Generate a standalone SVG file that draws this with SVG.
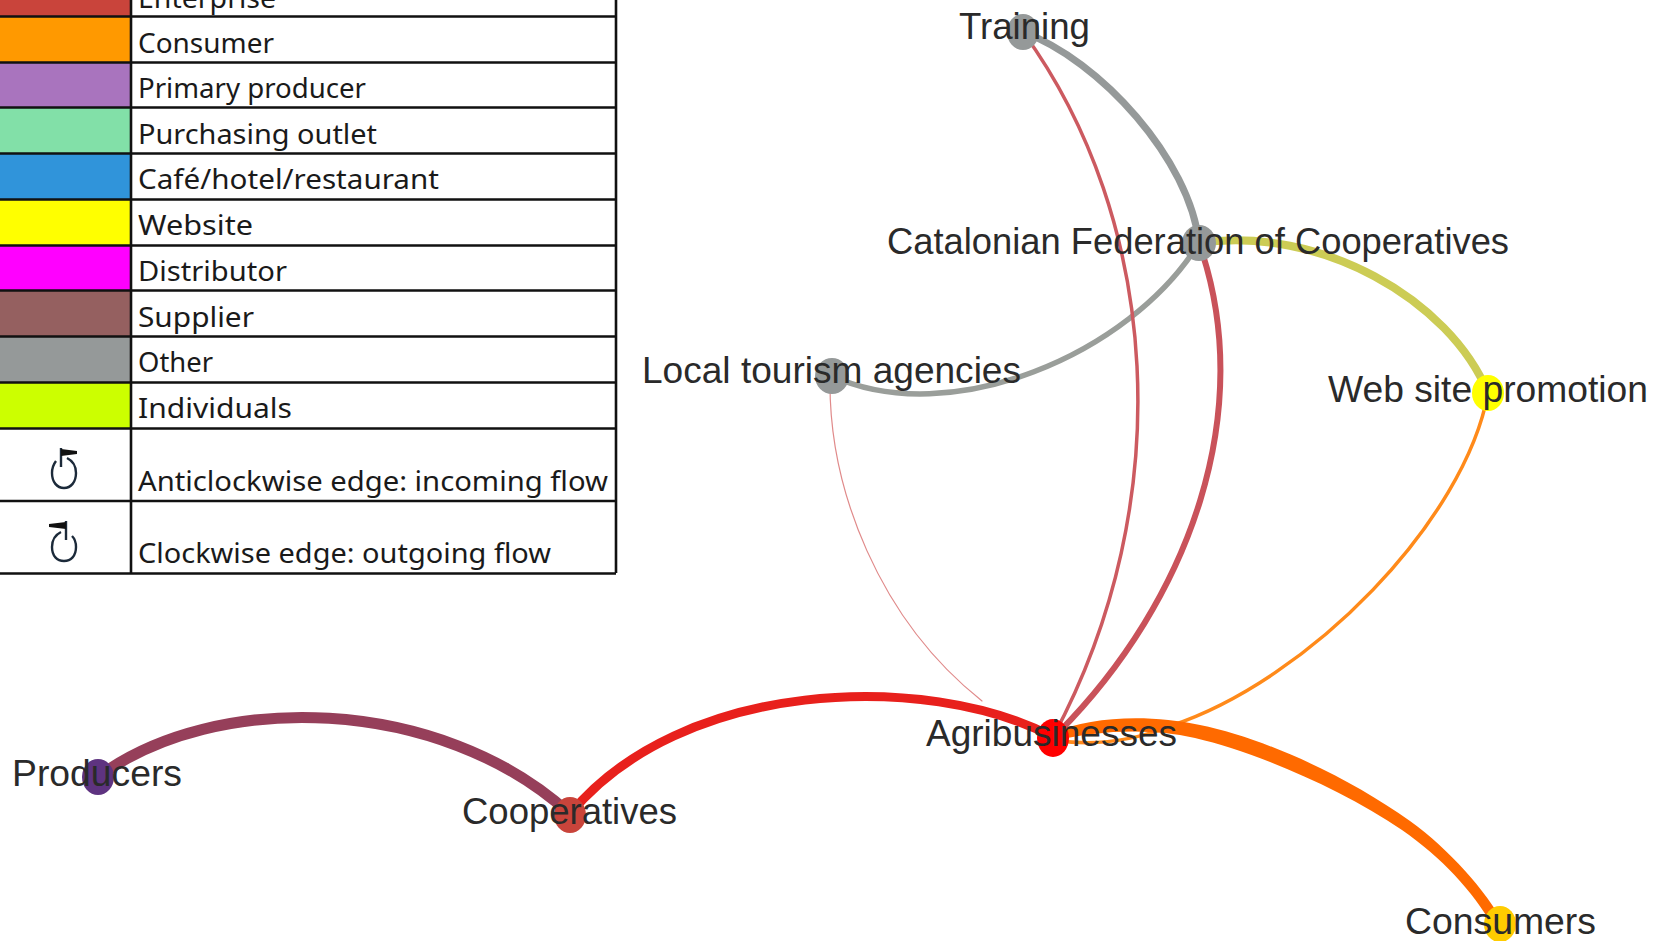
<svg xmlns="http://www.w3.org/2000/svg" width="1665" height="941" viewBox="0 0 1665 941">
<style>
.lg{font-family:"Noto Sans","DejaVu Sans",sans-serif;font-size:28px;fill:#1a1a1a}
.nl{font-family:"Liberation Sans",Arial,sans-serif;font-size:37px;fill:#2a2a2a}
.gl{stroke:#111;stroke-width:2.6;fill:none}
.e{fill:none;stroke-linecap:round}
.sym{fill:none;stroke:#1c2a3a;stroke-width:2.4}
.tip{fill:#111}
</style>
<rect width="1665" height="941" fill="#fff"/>
<g id="legend">
<rect x="0" y="-10" width="131" height="26" fill="#C9443B"/>
<rect x="0" y="16" width="131" height="46" fill="#FF9900"/>
<rect x="0" y="62" width="131" height="45" fill="#A974BE"/>
<rect x="0" y="107" width="131" height="46" fill="#82E0A8"/>
<rect x="0" y="153" width="131" height="46" fill="#3094DA"/>
<rect x="0" y="199" width="131" height="46" fill="#FFFF00"/>
<rect x="0" y="245" width="131" height="46" fill="#FF00FF"/>
<rect x="0" y="291" width="131" height="45" fill="#956060"/>
<rect x="0" y="336" width="131" height="46" fill="#959999"/>
<rect x="0" y="382" width="131" height="46" fill="#CCFF00"/>
<path class="gl" d="M0,16.5H616M0,62.5H616M0,107.5H616M0,153.5H616M0,199.5H616M0,245.5H616M0,290.5H616M0,336.5H616M0,382.5H616M0,428.5H616M0,501H616M0,573.5H616M131,0V573M616,0V573"/>
<text class="lg" x="138" y="8" textLength="138" lengthAdjust="spacingAndGlyphs">Enterprise</text>
<text class="lg" x="138" y="53" textLength="136" lengthAdjust="spacingAndGlyphs">Consumer</text>
<text class="lg" x="138" y="98" textLength="228" lengthAdjust="spacingAndGlyphs">Primary producer</text>
<text class="lg" x="138" y="144" textLength="239" lengthAdjust="spacingAndGlyphs">Purchasing outlet</text>
<text class="lg" x="138" y="189" textLength="301" lengthAdjust="spacingAndGlyphs">Café/hotel/restaurant</text>
<text class="lg" x="138" y="235" textLength="115" lengthAdjust="spacingAndGlyphs">Website</text>
<text class="lg" x="138" y="281" textLength="149" lengthAdjust="spacingAndGlyphs">Distributor</text>
<text class="lg" x="138" y="327" textLength="116" lengthAdjust="spacingAndGlyphs">Supplier</text>
<text class="lg" x="138" y="372" textLength="75" lengthAdjust="spacingAndGlyphs">Other</text>
<text class="lg" x="138" y="418" textLength="154" lengthAdjust="spacingAndGlyphs">Individuals</text>
<text class="lg" x="138" y="491" textLength="470" lengthAdjust="spacingAndGlyphs">Anticlockwise edge: incoming flow</text>
<text class="lg" x="138" y="563" textLength="413" lengthAdjust="spacingAndGlyphs">Clockwise edge: outgoing flow</text>
<g id="symbol-anticlockwise">
<path class="sym" d="M56,461C53,465 52,469 52,473C52,482 57,488 64,488C71,488 76,482 76,473C76,466 73,461 67,458"/>
<path class="sym" d="M61,448V467"/>
<path class="tip" d="M61,449L77,451V454L61,456Z"/>
</g>
<g id="symbol-clockwise">
<path class="sym" d="M72,536C75,539 76,543 76,547C76,556 71,561 64,561C57,561 52,556 52,547C52,540 55,535 61,532"/>
<path class="sym" d="M66,521V540"/>
<path class="tip" d="M66,522L49,524V527L66,529Z"/>
</g>
</g>
<g id="connectors">
<path class="e" stroke="#E08A8A" stroke-width="1.2" d="M830,376C828,490 880,620 982,701"/>
<path class="e" stroke="#963F5A" stroke-width="11" d="M98,777C215,690 440,695 570,814"/>
<path class="e" stroke="#E8201C" stroke-width="9" d="M570,814C680,680 925,670 1053,737"/>
<path class="e" stroke="#FF8A1A" stroke-width="3.5" d="M1488,393C1465,520 1310,680 1170,726C1130,742 1090,746 1053,740"/>
<path fill="#FF6A00" d="M1053,733C1090,716 1150,714 1200,725C1265,738 1350,778 1410,821C1450,850 1485,890 1505,925L1494,928C1472,890 1442,858 1402,830C1340,788 1255,752 1195,738C1150,728 1100,730 1053,741Z"/>
<path class="e" stroke="#CCCC55" stroke-width="8" d="M1199,243C1320,225 1450,300 1488,393"/>
<path class="e" stroke="#959999" stroke-width="7" d="M1023,32C1100,60 1190,160 1199,243"/>
<path class="e" stroke="#9A9E9A" stroke-width="5.5" d="M1199,243C1130,355 950,430 832,376"/>
<path class="e" stroke="#CC5A60" stroke-width="3.5" d="M1023,32C1160,220 1180,500 1053,737"/>
<path class="e" stroke="#C9525A" stroke-width="6" d="M1199,243C1258,410 1190,600 1058,733"/>
</g>
<g id="node-training"><ellipse cx="1023" cy="32" rx="16" ry="18" fill="#959999"/><text class="nl" x="959" y="39" textLength="131" lengthAdjust="spacingAndGlyphs">Training</text></g>
<g id="node-federation"><ellipse cx="1199" cy="243" rx="17" ry="18" fill="#959999"/><text class="nl" x="887" y="254" textLength="622" lengthAdjust="spacingAndGlyphs">Catalonian Federation of Cooperatives</text></g>
<g id="node-local-tourism"><ellipse cx="832" cy="376" rx="17" ry="18" fill="#959999"/><text class="nl" x="642" y="383" textLength="379" lengthAdjust="spacingAndGlyphs">Local tourism agencies</text></g>
<g id="node-web-site"><ellipse cx="1488" cy="393" rx="16" ry="18" fill="#FFFF00"/><text class="nl" x="1328" y="402" textLength="320" lengthAdjust="spacingAndGlyphs">Web site promotion</text></g>
<g id="node-agribusinesses"><ellipse cx="1053" cy="738" rx="16" ry="19" fill="#FF0000"/><text class="nl" x="926" y="746" textLength="251" lengthAdjust="spacingAndGlyphs">Agribusinesses</text></g>
<g id="node-consumers"><ellipse cx="1500" cy="924" rx="16" ry="18" fill="#FFCC00"/><text class="nl" x="1405" y="934" textLength="191" lengthAdjust="spacingAndGlyphs">Consumers</text></g>
<g id="node-cooperatives"><ellipse cx="570" cy="815" rx="16" ry="18" fill="#C9443B"/><text class="nl" x="462" y="824" textLength="215" lengthAdjust="spacingAndGlyphs">Cooperatives</text></g>
<g id="node-producers"><ellipse cx="98" cy="777" rx="16" ry="18" fill="#5E3380"/><text class="nl" x="12" y="786" textLength="170" lengthAdjust="spacingAndGlyphs">Producers</text></g>
</svg>
